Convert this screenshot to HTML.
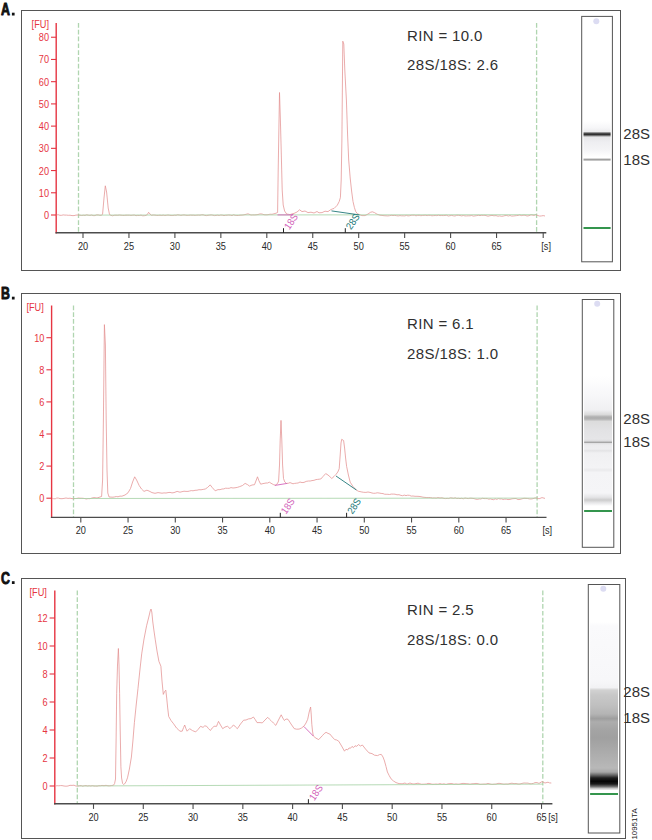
<!DOCTYPE html>
<html><head><meta charset="utf-8"><title>RNA integrity electropherograms</title>
<style>html,body{margin:0;padding:0;background:#fff}svg{display:block;font-family:"Liberation Sans",sans-serif}</style></head>
<body>
<svg width="652" height="840" viewBox="0 0 652 840">
<rect width="652" height="840" fill="#fff"/>
<rect x="21.5" y="10.5" width="599.0" height="260.0" fill="#fff" stroke="#555" stroke-width="1"/>
<text transform="translate(0.9,15.3) scale(0.73,1)" font-weight="bold" font-size="16.9" fill="#111" stroke="#111" stroke-width="0.95" stroke-linejoin="round">A</text>
<rect x="11.9" y="12.7" width="2.7" height="2.8" fill="#111"/>
<line x1="78.5" y1="23" x2="78.5" y2="232.8" stroke="#b0d5b0" stroke-width="1.3" stroke-dasharray="4.7 2.1"/>
<line x1="536.6" y1="23" x2="536.6" y2="232.8" stroke="#b0d5b0" stroke-width="1.3" stroke-dasharray="4.7 2.1"/>
<line x1="56.2" y1="23" x2="56.2" y2="233.4" stroke="#e63542" stroke-width="1.4"/>
<text transform="translate(31.6,27.7) scale(0.92,1)" font-size="10" fill="#e63542">[FU]</text>
<line x1="51.0" y1="215.0" x2="56.2" y2="215.0" stroke="#e63542" stroke-width="1.1"/>
<text transform="translate(49.0,218.9) scale(0.92,1)" font-size="10" fill="#e63542" text-anchor="end">0</text>
<line x1="51.0" y1="192.78" x2="56.2" y2="192.78" stroke="#e63542" stroke-width="1.1"/>
<text transform="translate(49.0,196.7) scale(0.92,1)" font-size="10" fill="#e63542" text-anchor="end">10</text>
<line x1="51.0" y1="170.56" x2="56.2" y2="170.56" stroke="#e63542" stroke-width="1.1"/>
<text transform="translate(49.0,174.5) scale(0.92,1)" font-size="10" fill="#e63542" text-anchor="end">20</text>
<line x1="51.0" y1="148.34" x2="56.2" y2="148.34" stroke="#e63542" stroke-width="1.1"/>
<text transform="translate(49.0,152.2) scale(0.92,1)" font-size="10" fill="#e63542" text-anchor="end">30</text>
<line x1="51.0" y1="126.12" x2="56.2" y2="126.12" stroke="#e63542" stroke-width="1.1"/>
<text transform="translate(49.0,130.0) scale(0.92,1)" font-size="10" fill="#e63542" text-anchor="end">40</text>
<line x1="51.0" y1="103.9" x2="56.2" y2="103.9" stroke="#e63542" stroke-width="1.1"/>
<text transform="translate(49.0,107.8) scale(0.92,1)" font-size="10" fill="#e63542" text-anchor="end">50</text>
<line x1="51.0" y1="81.68" x2="56.2" y2="81.68" stroke="#e63542" stroke-width="1.1"/>
<text transform="translate(49.0,85.6) scale(0.92,1)" font-size="10" fill="#e63542" text-anchor="end">60</text>
<line x1="51.0" y1="59.46000000000001" x2="56.2" y2="59.46000000000001" stroke="#e63542" stroke-width="1.1"/>
<text transform="translate(49.0,63.4) scale(0.92,1)" font-size="10" fill="#e63542" text-anchor="end">70</text>
<line x1="51.0" y1="37.24000000000001" x2="56.2" y2="37.24000000000001" stroke="#e63542" stroke-width="1.1"/>
<text transform="translate(49.0,41.1) scale(0.92,1)" font-size="10" fill="#e63542" text-anchor="end">80</text>
<line x1="55.5" y1="232.8" x2="546.3" y2="232.8" stroke="#4c4c4c" stroke-width="1.4"/>
<line x1="83.0" y1="232.8" x2="83.0" y2="237.9" stroke="#4c4c4c" stroke-width="1.1"/>
<text transform="translate(83.0,249.8) scale(0.92,1)" font-size="10" fill="#2a2a2a" text-anchor="middle">20</text>
<line x1="128.95" y1="232.8" x2="128.95" y2="237.9" stroke="#4c4c4c" stroke-width="1.1"/>
<text transform="translate(128.9,249.8) scale(0.92,1)" font-size="10" fill="#2a2a2a" text-anchor="middle">25</text>
<line x1="174.89999999999998" y1="232.8" x2="174.89999999999998" y2="237.9" stroke="#4c4c4c" stroke-width="1.1"/>
<text transform="translate(174.9,249.8) scale(0.92,1)" font-size="10" fill="#2a2a2a" text-anchor="middle">30</text>
<line x1="220.85" y1="232.8" x2="220.85" y2="237.9" stroke="#4c4c4c" stroke-width="1.1"/>
<text transform="translate(220.8,249.8) scale(0.92,1)" font-size="10" fill="#2a2a2a" text-anchor="middle">35</text>
<line x1="266.79999999999995" y1="232.8" x2="266.79999999999995" y2="237.9" stroke="#4c4c4c" stroke-width="1.1"/>
<text transform="translate(266.8,249.8) scale(0.92,1)" font-size="10" fill="#2a2a2a" text-anchor="middle">40</text>
<line x1="312.75" y1="232.8" x2="312.75" y2="237.9" stroke="#4c4c4c" stroke-width="1.1"/>
<text transform="translate(312.8,249.8) scale(0.92,1)" font-size="10" fill="#2a2a2a" text-anchor="middle">45</text>
<line x1="358.7" y1="232.8" x2="358.7" y2="237.9" stroke="#4c4c4c" stroke-width="1.1"/>
<text transform="translate(358.7,249.8) scale(0.92,1)" font-size="10" fill="#2a2a2a" text-anchor="middle">50</text>
<line x1="404.65" y1="232.8" x2="404.65" y2="237.9" stroke="#4c4c4c" stroke-width="1.1"/>
<text transform="translate(404.6,249.8) scale(0.92,1)" font-size="10" fill="#2a2a2a" text-anchor="middle">55</text>
<line x1="450.59999999999997" y1="232.8" x2="450.59999999999997" y2="237.9" stroke="#4c4c4c" stroke-width="1.1"/>
<text transform="translate(450.6,249.8) scale(0.92,1)" font-size="10" fill="#2a2a2a" text-anchor="middle">60</text>
<line x1="496.54999999999995" y1="232.8" x2="496.54999999999995" y2="237.9" stroke="#4c4c4c" stroke-width="1.1"/>
<text transform="translate(496.5,249.8) scale(0.92,1)" font-size="10" fill="#2a2a2a" text-anchor="middle">65</text>
<line x1="543.2" y1="232.8" x2="543.2" y2="237.9" stroke="#4c4c4c" stroke-width="1.1"/>
<text transform="translate(541.3,249.8) scale(0.92,1)" font-size="10" fill="#2a2a2a">[s]</text>
<polyline points="56.5,215.0 58.2,214.7 59.9,215.3 61.6,215.3 63.2,214.9 64.9,215.1 66.6,215.1 68.3,215.3 70.0,215.2 72.0,215.6 74.0,215.6 76.0,215.1 78.0,215.0 80.0,215.2 81.7,215.5 83.3,215.2 85.0,215.4 86.6,214.8 88.3,215.2 89.9,215.4 91.6,215.0 93.2,215.6 94.9,215.6 96.5,214.9 98.2,214.9 99.8,215.3 101.5,215.3 102.6,214.0 104.0,198.0 105.3,185.8 106.6,192.0 108.2,208.0 109.5,214.5 111.0,215.4 112.7,215.8 114.3,215.3 116.0,215.2 117.7,215.3 119.3,215.0 121.0,215.2 122.7,215.4 124.3,215.4 126.0,215.2 127.7,215.2 129.3,215.2 131.0,215.4 132.7,215.2 134.3,215.0 136.0,215.7 137.7,215.4 139.3,215.5 141.0,215.1 142.7,215.8 144.3,215.7 146.0,215.4 147.5,214.3 148.6,212.3 150.0,214.0 151.5,215.3 153.2,215.0 154.9,215.1 156.6,215.4 158.3,215.4 160.0,215.2 161.6,215.5 163.2,215.1 164.8,215.5 166.4,215.3 168.0,215.0 169.6,215.3 171.2,215.5 172.8,215.5 174.4,215.2 176.0,215.3 177.6,214.8 179.2,215.0 180.8,215.4 182.4,215.1 184.0,214.9 185.6,215.2 187.2,215.4 188.8,215.3 190.4,215.1 192.0,215.2 193.6,215.2 195.2,215.4 196.8,215.2 198.4,215.1 200.0,215.2 201.6,214.8 203.2,214.8 204.8,215.4 206.4,215.6 208.0,215.3 209.6,215.1 211.2,214.9 212.8,215.2 214.4,215.6 216.0,215.4 217.6,215.2 219.2,215.5 220.8,215.0 222.4,215.2 224.0,215.6 225.6,215.3 227.2,215.2 228.8,215.0 230.4,215.2 232.0,215.6 233.6,214.8 235.2,215.4 236.8,215.5 238.4,215.5 240.0,215.2 242.0,215.1 244.0,214.8 246.0,214.3 248.0,213.8 251.0,215.0 252.7,214.9 254.3,214.9 256.0,214.8 258.0,214.5 260.0,213.9 262.0,214.0 264.0,214.7 266.0,214.8 268.0,214.7 270.0,214.2 272.0,214.3 274.0,213.8 276.0,213.2 277.6,212.5 278.2,170.0 279.5,92.5 280.4,120.0 281.2,150.0 282.2,190.0 283.2,205.0 284.6,211.0 286.7,214.0 288.4,214.3 290.0,214.6 292.0,213.9 294.0,213.4 297.0,212.0 299.6,209.8 302.0,211.6 305.0,211.0 308.0,212.6 311.0,212.2 314.0,213.0 317.0,211.5 319.0,212.8 322.0,212.6 325.0,211.2 328.0,211.6 330.5,209.8 332.2,209.0 334.0,208.5 337.3,205.2 339.2,201.5 340.4,197.5 341.2,180.0 341.9,140.0 342.8,41.2 343.8,44.0 344.8,70.0 346.4,100.0 347.6,135.0 348.7,160.0 350.2,178.0 351.6,191.0 353.0,201.5 354.4,207.5 355.7,211.5 357.5,213.8 359.4,214.6 362.0,215.6 365.0,215.6 368.0,214.0 370.5,212.3 372.3,211.8 374.5,212.6 377.0,214.2 380.0,215.2 382.0,215.4 384.0,215.7 386.0,215.8 387.8,215.9 389.5,215.7 391.2,215.3 393.0,215.5 394.8,215.4 396.5,215.7 398.2,215.9 400.0,215.6 401.6,215.8 403.2,215.8 404.8,215.9 406.4,215.4 408.0,215.9 409.6,215.7 411.2,215.3 412.8,215.2 414.4,215.2 416.0,215.8 417.6,215.4 419.2,215.3 420.8,215.7 422.4,215.5 424.0,215.3 425.6,215.3 427.2,215.6 428.8,215.3 430.4,215.4 432.0,215.8 433.6,215.6 435.2,215.5 436.8,215.6 438.4,215.2 440.0,215.6 441.7,215.5 443.3,215.6 445.0,215.4 446.7,215.3 448.3,216.0 450.0,215.7 451.7,215.4 453.3,215.8 455.0,216.0 456.7,215.3 458.3,215.3 460.0,215.5 461.7,215.9 463.3,215.5 465.0,215.9 466.7,215.9 468.3,215.8 470.0,215.8 471.7,215.5 473.3,216.1 475.0,215.9 476.7,215.6 478.3,215.3 480.0,215.6 481.7,215.3 483.3,215.4 485.0,215.3 488.0,216.2 490.0,215.7 492.0,215.4 494.0,215.8 496.0,215.6 498.0,216.2 499.8,215.9 501.5,216.3 503.2,216.1 505.0,215.6 506.7,215.5 508.3,216.0 510.0,215.5 511.7,216.1 513.3,216.0 515.0,215.8 516.6,215.6 518.2,215.4 519.8,215.0 521.4,215.6 523.0,215.2 525.0,215.2 527.0,216.0 529.0,215.7 531.0,214.8 534.0,215.4 536.0,214.6 538.0,215.6 539.8,216.1 541.5,215.9 543.2,215.6 545.0,216.0" fill="none" stroke="#e39090" stroke-width="0.75" stroke-linejoin="round"/>
<line x1="78.5" y1="215.1" x2="536.6" y2="214.7" stroke="#a6d2a6" stroke-width="0.9" opacity="0.9"/>
<text x="407" y="40.7" font-size="15" fill="#303030" letter-spacing="0.36">RIN = 10.0</text>
<text x="407" y="70.1" font-size="15" fill="#303030" letter-spacing="0.4">28S/18S: 2.6</text>
<line x1="283.5" y1="228.20000000000002" x2="283.5" y2="232.8" stroke="#222" stroke-width="1"/>
<text transform="translate(289.3,230.2) rotate(-56) scale(0.92,1)" font-size="10" fill="#d264ba">18S</text>
<line x1="277.5" y1="214.9" x2="293" y2="214.9" stroke="#d264ba" stroke-width="0.9"/>
<line x1="345.3" y1="228.20000000000002" x2="345.3" y2="232.8" stroke="#222" stroke-width="1"/>
<text transform="translate(351.1,230.2) rotate(-56) scale(0.92,1)" font-size="10" fill="#217878">28S</text>
<line x1="331.5" y1="210.9" x2="359.4" y2="214.9" stroke="#217878" stroke-width="0.9"/>
<rect x="581.7" y="16.4" width="30.699999999999932" height="245.4" fill="#fff" stroke="#555" stroke-width="1"/>
<defs><linearGradient id="gA" x1="0" y1="0" x2="0" y2="1"><stop offset="0.0000" stop-color="#fff"/><stop offset="0.1944" stop-color="#f6f6f8"/><stop offset="0.2917" stop-color="#ececee"/><stop offset="0.3333" stop-color="#6a6a6a"/><stop offset="0.3667" stop-color="#1c1c1c"/><stop offset="0.4000" stop-color="#6a6a6a"/><stop offset="0.4444" stop-color="#e6e6e8"/><stop offset="0.5833" stop-color="#eeeef1"/><stop offset="0.8056" stop-color="#f4f4f6"/><stop offset="1.0000" stop-color="#fff"/></linearGradient></defs>
<rect x="583.5" y="121" width="27.1" height="36" fill="url(#gA)"/>
<rect x="583.5" y="158.6" width="27.09999999999993" height="2" fill="#a0a0a0"/>
<rect x="583.5" y="227.1" width="27.09999999999993" height="1.8" fill="#1f8a3a"/>
<circle cx="596.3" cy="21.2" r="3" fill="#dcdcf2"/>
<text x="623.3000000000001" y="139.0" font-size="15" fill="#303030">28S</text>
<text x="623.3000000000001" y="164.8" font-size="15" fill="#303030">18S</text>
<rect x="21.5" y="293.5" width="599.0" height="260.0" fill="#fff" stroke="#555" stroke-width="1"/>
<text transform="translate(0.9,299.3) scale(0.73,1)" font-weight="bold" font-size="16.9" fill="#111" stroke="#111" stroke-width="0.95" stroke-linejoin="round">B</text>
<rect x="11.9" y="296.7" width="2.7" height="2.8" fill="#111"/>
<line x1="73.5" y1="305.5" x2="73.5" y2="517.4" stroke="#b0d5b0" stroke-width="1.3" stroke-dasharray="4.7 2.1"/>
<line x1="537.1" y1="305.5" x2="537.1" y2="517.4" stroke="#b0d5b0" stroke-width="1.3" stroke-dasharray="4.7 2.1"/>
<line x1="51.6" y1="305.5" x2="51.6" y2="518.0" stroke="#e63542" stroke-width="1.4"/>
<text transform="translate(26.4,310.7) scale(0.92,1)" font-size="10" fill="#e63542">[FU]</text>
<line x1="46.4" y1="498.2" x2="51.6" y2="498.2" stroke="#e63542" stroke-width="1.1"/>
<text transform="translate(44.4,502.1) scale(0.92,1)" font-size="10" fill="#e63542" text-anchor="end">0</text>
<line x1="46.4" y1="466.09999999999997" x2="51.6" y2="466.09999999999997" stroke="#e63542" stroke-width="1.1"/>
<text transform="translate(44.4,470.0) scale(0.92,1)" font-size="10" fill="#e63542" text-anchor="end">2</text>
<line x1="46.4" y1="434.0" x2="51.6" y2="434.0" stroke="#e63542" stroke-width="1.1"/>
<text transform="translate(44.4,437.9) scale(0.92,1)" font-size="10" fill="#e63542" text-anchor="end">4</text>
<line x1="46.4" y1="401.9" x2="51.6" y2="401.9" stroke="#e63542" stroke-width="1.1"/>
<text transform="translate(44.4,405.8) scale(0.92,1)" font-size="10" fill="#e63542" text-anchor="end">6</text>
<line x1="46.4" y1="369.79999999999995" x2="51.6" y2="369.79999999999995" stroke="#e63542" stroke-width="1.1"/>
<text transform="translate(44.4,373.7) scale(0.92,1)" font-size="10" fill="#e63542" text-anchor="end">8</text>
<line x1="46.4" y1="337.7" x2="51.6" y2="337.7" stroke="#e63542" stroke-width="1.1"/>
<text transform="translate(44.4,341.6) scale(0.92,1)" font-size="10" fill="#e63542" text-anchor="end">10</text>
<line x1="50.9" y1="517.4" x2="546.5" y2="517.4" stroke="#4c4c4c" stroke-width="1.4"/>
<line x1="80.8" y1="517.4" x2="80.8" y2="522.5" stroke="#4c4c4c" stroke-width="1.1"/>
<text transform="translate(80.8,534.4) scale(0.92,1)" font-size="10" fill="#2a2a2a" text-anchor="middle">20</text>
<line x1="128.05" y1="517.4" x2="128.05" y2="522.5" stroke="#4c4c4c" stroke-width="1.1"/>
<text transform="translate(128.1,534.4) scale(0.92,1)" font-size="10" fill="#2a2a2a" text-anchor="middle">25</text>
<line x1="175.3" y1="517.4" x2="175.3" y2="522.5" stroke="#4c4c4c" stroke-width="1.1"/>
<text transform="translate(175.3,534.4) scale(0.92,1)" font-size="10" fill="#2a2a2a" text-anchor="middle">30</text>
<line x1="222.55" y1="517.4" x2="222.55" y2="522.5" stroke="#4c4c4c" stroke-width="1.1"/>
<text transform="translate(222.6,534.4) scale(0.92,1)" font-size="10" fill="#2a2a2a" text-anchor="middle">35</text>
<line x1="269.8" y1="517.4" x2="269.8" y2="522.5" stroke="#4c4c4c" stroke-width="1.1"/>
<text transform="translate(269.8,534.4) scale(0.92,1)" font-size="10" fill="#2a2a2a" text-anchor="middle">40</text>
<line x1="317.04999999999995" y1="517.4" x2="317.04999999999995" y2="522.5" stroke="#4c4c4c" stroke-width="1.1"/>
<text transform="translate(317.0,534.4) scale(0.92,1)" font-size="10" fill="#2a2a2a" text-anchor="middle">45</text>
<line x1="364.3" y1="517.4" x2="364.3" y2="522.5" stroke="#4c4c4c" stroke-width="1.1"/>
<text transform="translate(364.3,534.4) scale(0.92,1)" font-size="10" fill="#2a2a2a" text-anchor="middle">50</text>
<line x1="411.55" y1="517.4" x2="411.55" y2="522.5" stroke="#4c4c4c" stroke-width="1.1"/>
<text transform="translate(411.6,534.4) scale(0.92,1)" font-size="10" fill="#2a2a2a" text-anchor="middle">55</text>
<line x1="458.8" y1="517.4" x2="458.8" y2="522.5" stroke="#4c4c4c" stroke-width="1.1"/>
<text transform="translate(458.8,534.4) scale(0.92,1)" font-size="10" fill="#2a2a2a" text-anchor="middle">60</text>
<line x1="506.04999999999995" y1="517.4" x2="506.04999999999995" y2="522.5" stroke="#4c4c4c" stroke-width="1.1"/>
<text transform="translate(506.0,534.4) scale(0.92,1)" font-size="10" fill="#2a2a2a" text-anchor="middle">65</text>
<text transform="translate(542.4,534.4) scale(0.92,1)" font-size="10" fill="#2a2a2a">[s]</text>
<polyline points="52.0,498.2 53.6,498.7 55.2,498.8 56.8,498.0 58.4,498.1 60.0,498.6 62.0,498.7 64.0,498.4 66.0,498.0 68.0,498.4 70.0,498.2 72.0,498.6 73.6,498.6 75.2,498.5 76.8,498.4 78.4,498.0 80.0,498.2 81.6,498.2 83.2,498.3 84.8,498.6 86.4,499.0 88.0,498.6 90.0,498.7 92.0,498.0 94.0,497.6 97.0,498.0 100.0,497.0 101.6,496.5 102.6,480.0 103.4,420.0 104.4,324.6 105.4,345.0 106.2,420.0 107.0,470.0 107.8,493.0 109.1,497.0 111.0,497.1 113.0,497.2 114.7,496.9 116.3,496.5 118.0,496.8 120.0,496.1 121.9,496.2 125.0,495.0 128.0,492.8 130.5,488.5 132.6,482.0 134.7,476.8 136.6,480.0 139.1,485.4 141.5,489.0 144.0,491.4 146.9,490.2 149.0,491.0 152.0,492.6 155.0,493.3 158.0,492.6 160.0,492.9 162.0,493.2 164.0,492.9 166.0,493.0 168.0,492.6 170.0,492.4 172.0,492.9 174.0,492.6 177.1,491.4 180.0,492.2 182.0,491.7 184.0,491.2 186.0,491.4 188.0,491.4 189.7,491.0 191.3,490.6 193.0,490.8 195.0,490.3 197.0,490.2 199.0,489.7 201.0,489.8 203.2,489.4 205.3,489.0 207.5,487.5 210.2,484.9 212.3,487.6 215.2,490.8 218.0,489.6 220.0,489.7 222.0,489.0 223.8,488.9 225.6,488.2 227.4,488.3 229.2,488.3 231.0,487.6 233.0,488.0 235.0,487.8 237.3,487.4 239.7,486.6 242.5,485.5 245.1,483.4 247.5,484.6 249.5,486.1 252.0,485.0 254.5,484.7 256.3,480.0 257.5,476.8 258.8,480.5 260.7,484.2 263.0,483.6 266.0,483.0 267.6,483.0 269.3,482.2 272.0,483.8 273.7,484.7 275.4,485.2 277.5,483.5 278.6,481.0 279.5,465.0 280.2,440.0 281.0,420.4 281.8,440.0 282.6,465.0 283.5,478.5 284.8,482.0 286.4,483.4 288.2,483.3 290.0,482.6 293.0,483.8 294.6,483.4 296.3,483.2 298.1,483.0 300.0,482.0 302.0,482.6 304.0,482.4 306.2,481.4 308.5,481.0 310.2,481.0 312.0,480.6 314.0,480.3 316.0,479.6 317.6,479.4 319.2,479.2 320.8,479.0 323.0,476.5 325.7,473.6 328.0,475.0 329.9,476.7 331.8,478.5 334.0,476.5 336.0,474.4 337.8,472.0 339.2,468.7 340.2,455.0 341.0,443.0 341.7,439.3 343.6,440.5 344.6,448.0 345.6,458.0 346.6,466.3 348.4,475.0 350.2,482.2 353.0,486.5 356.4,490.0 358.2,491.2 360.0,491.6 361.9,492.0 363.7,492.3 365.9,492.4 368.0,492.0 370.0,492.4 372.0,493.0 373.7,493.3 375.5,493.2 377.2,492.8 379.1,493.0 381.1,493.4 383.0,493.6 384.6,494.2 386.2,494.3 387.9,494.3 389.5,494.5 391.3,494.1 393.2,494.1 395.0,494.2 397.0,494.8 399.0,494.7 401.0,495.4 402.6,495.7 404.3,495.1 406.0,495.6 407.6,495.2 409.4,495.3 411.2,496.1 413.0,496.0 415.0,496.3 417.0,496.3 419.0,496.4 421.0,496.7 423.0,497.2 425.0,497.4 426.9,497.6 428.8,497.5 430.6,497.6 432.5,498.0 434.3,497.9 436.2,498.1 438.0,497.6 440.0,498.0 442.0,497.8 444.0,498.4 445.6,498.6 447.2,498.4 448.8,498.5 450.4,497.8 452.0,498.0 453.6,498.3 455.2,497.8 456.8,498.5 458.4,498.3 460.0,498.6 461.7,498.3 463.3,498.8 465.0,498.0 466.7,498.4 468.3,498.6 470.0,498.2 472.0,498.3 474.0,498.6 476.0,499.2 477.6,499.4 479.2,498.9 480.8,499.0 482.4,498.3 484.0,498.6 485.6,498.6 487.2,498.6 488.8,499.2 490.4,498.9 492.0,499.4 493.6,499.7 495.2,498.8 496.8,499.4 498.4,498.6 500.0,499.0 501.6,498.9 503.2,499.5 504.8,499.1 506.4,499.2 508.0,499.6 510.0,499.4 512.0,498.8 514.0,498.6 516.0,498.5 518.0,499.6 520.0,499.4 522.0,498.8 524.0,498.3 526.0,498.4 527.7,498.5 529.3,498.9 531.0,499.0 533.0,498.7 535.0,498.0 537.0,498.1 539.0,498.8 542.0,497.6 545.0,498.4" fill="none" stroke="#e39090" stroke-width="0.75" stroke-linejoin="round"/>
<line x1="73.5" y1="498.5" x2="537.1" y2="498.1" stroke="#a6d2a6" stroke-width="0.9" opacity="0.9"/>
<text x="407" y="328.6" font-size="15" fill="#303030" letter-spacing="0.36">RIN = 6.1</text>
<text x="407" y="358.8" font-size="15" fill="#303030" letter-spacing="0.4">28S/18S: 1.0</text>
<line x1="280.3" y1="512.8" x2="280.3" y2="517.4" stroke="#222" stroke-width="1"/>
<text transform="translate(286.1,514.8) rotate(-56) scale(0.92,1)" font-size="10" fill="#d264ba">18S</text>
<line x1="274.9" y1="485.4" x2="287.2" y2="483.4" stroke="#d264ba" stroke-width="0.9"/>
<line x1="346.6" y1="512.8" x2="346.6" y2="517.4" stroke="#222" stroke-width="1"/>
<text transform="translate(352.4,514.8) rotate(-56) scale(0.92,1)" font-size="10" fill="#217878">28S</text>
<line x1="336" y1="476" x2="356.4" y2="490" stroke="#217878" stroke-width="0.9"/>
<rect x="582.3" y="299.5" width="31.5" height="247.79999999999995" fill="#fff" stroke="#555" stroke-width="1"/>
<defs><linearGradient id="gB" x1="0" y1="0" x2="0" y2="1"><stop offset="0.0000" stop-color="#fff"/><stop offset="0.1462" stop-color="#f7f7f9"/><stop offset="0.2615" stop-color="#f0f0f2"/><stop offset="0.2962" stop-color="#dadada"/><stop offset="0.3123" stop-color="#b6b6b6"/><stop offset="0.3231" stop-color="#acacac"/><stop offset="0.3338" stop-color="#b8b8b8"/><stop offset="0.3500" stop-color="#dcdcdc"/><stop offset="0.4154" stop-color="#e2e2e4"/><stop offset="0.4846" stop-color="#e6e6e8"/><stop offset="0.5023" stop-color="#dadadc"/><stop offset="0.5062" stop-color="#a6a6a6"/><stop offset="0.5123" stop-color="#a6a6a6"/><stop offset="0.5162" stop-color="#dedee0"/><stop offset="0.5308" stop-color="#ececee"/><stop offset="0.5615" stop-color="#eeeef0"/><stop offset="0.5746" stop-color="#e3e3e5"/><stop offset="0.5923" stop-color="#f0f0f2"/><stop offset="0.7038" stop-color="#f3f3f5"/><stop offset="0.7231" stop-color="#eaeaec"/><stop offset="0.7423" stop-color="#f4f4f6"/><stop offset="0.9000" stop-color="#f5f5f7"/><stop offset="0.9331" stop-color="#e4e4e6"/><stop offset="0.9538" stop-color="#cccccc"/><stop offset="0.9746" stop-color="#e6e6e8"/><stop offset="1.0000" stop-color="#fff"/></linearGradient></defs>
<rect x="584.1" y="376" width="27.9" height="130" fill="url(#gB)"/>
<rect x="584.0999999999999" y="510.1" width="27.9" height="1.8" fill="#1f8a3a"/>
<circle cx="597.2" cy="303.7" r="3" fill="#dcdcf2"/>
<text x="623.3000000000001" y="423.59999999999997" font-size="15" fill="#303030">28S</text>
<text x="623.3000000000001" y="447.0" font-size="15" fill="#303030">18S</text>
<rect x="21.5" y="578.5" width="604.0" height="260.0" fill="#fff" stroke="#555" stroke-width="1"/>
<text transform="translate(0.9,583.8) scale(0.73,1)" font-weight="bold" font-size="16.9" fill="#111" stroke="#111" stroke-width="0.95" stroke-linejoin="round">C</text>
<rect x="11.9" y="581.2" width="2.7" height="2.8" fill="#111"/>
<line x1="77.3" y1="590.5" x2="77.3" y2="803.8" stroke="#b0d5b0" stroke-width="1.3" stroke-dasharray="4.7 2.1"/>
<line x1="542.8" y1="590.5" x2="542.8" y2="803.8" stroke="#b0d5b0" stroke-width="1.3" stroke-dasharray="4.7 2.1"/>
<line x1="54.8" y1="590.5" x2="54.8" y2="804.4" stroke="#e63542" stroke-width="1.4"/>
<text transform="translate(29.5,596.0999999999999) scale(0.92,1)" font-size="10" fill="#e63542">[FU]</text>
<line x1="49.599999999999994" y1="786" x2="54.8" y2="786" stroke="#e63542" stroke-width="1.1"/>
<text transform="translate(47.6,789.9) scale(0.92,1)" font-size="10" fill="#e63542" text-anchor="end">0</text>
<line x1="49.599999999999994" y1="758" x2="54.8" y2="758" stroke="#e63542" stroke-width="1.1"/>
<text transform="translate(47.6,761.9) scale(0.92,1)" font-size="10" fill="#e63542" text-anchor="end">2</text>
<line x1="49.599999999999994" y1="730" x2="54.8" y2="730" stroke="#e63542" stroke-width="1.1"/>
<text transform="translate(47.6,733.9) scale(0.92,1)" font-size="10" fill="#e63542" text-anchor="end">4</text>
<line x1="49.599999999999994" y1="702" x2="54.8" y2="702" stroke="#e63542" stroke-width="1.1"/>
<text transform="translate(47.6,705.9) scale(0.92,1)" font-size="10" fill="#e63542" text-anchor="end">6</text>
<line x1="49.599999999999994" y1="674" x2="54.8" y2="674" stroke="#e63542" stroke-width="1.1"/>
<text transform="translate(47.6,677.9) scale(0.92,1)" font-size="10" fill="#e63542" text-anchor="end">8</text>
<line x1="49.599999999999994" y1="646" x2="54.8" y2="646" stroke="#e63542" stroke-width="1.1"/>
<text transform="translate(47.6,649.9) scale(0.92,1)" font-size="10" fill="#e63542" text-anchor="end">10</text>
<line x1="49.599999999999994" y1="618" x2="54.8" y2="618" stroke="#e63542" stroke-width="1.1"/>
<text transform="translate(47.6,621.9) scale(0.92,1)" font-size="10" fill="#e63542" text-anchor="end">12</text>
<line x1="54.099999999999994" y1="803.8" x2="552.4" y2="803.8" stroke="#4c4c4c" stroke-width="1.4"/>
<line x1="93.5" y1="803.8" x2="93.5" y2="808.9" stroke="#4c4c4c" stroke-width="1.1"/>
<text transform="translate(93.5,820.8) scale(0.92,1)" font-size="10" fill="#2a2a2a" text-anchor="middle">20</text>
<line x1="143.28" y1="803.8" x2="143.28" y2="808.9" stroke="#4c4c4c" stroke-width="1.1"/>
<text transform="translate(143.3,820.8) scale(0.92,1)" font-size="10" fill="#2a2a2a" text-anchor="middle">25</text>
<line x1="193.06" y1="803.8" x2="193.06" y2="808.9" stroke="#4c4c4c" stroke-width="1.1"/>
<text transform="translate(193.1,820.8) scale(0.92,1)" font-size="10" fill="#2a2a2a" text-anchor="middle">30</text>
<line x1="242.84" y1="803.8" x2="242.84" y2="808.9" stroke="#4c4c4c" stroke-width="1.1"/>
<text transform="translate(242.8,820.8) scale(0.92,1)" font-size="10" fill="#2a2a2a" text-anchor="middle">35</text>
<line x1="292.62" y1="803.8" x2="292.62" y2="808.9" stroke="#4c4c4c" stroke-width="1.1"/>
<text transform="translate(292.6,820.8) scale(0.92,1)" font-size="10" fill="#2a2a2a" text-anchor="middle">40</text>
<line x1="342.4" y1="803.8" x2="342.4" y2="808.9" stroke="#4c4c4c" stroke-width="1.1"/>
<text transform="translate(342.4,820.8) scale(0.92,1)" font-size="10" fill="#2a2a2a" text-anchor="middle">45</text>
<line x1="392.18" y1="803.8" x2="392.18" y2="808.9" stroke="#4c4c4c" stroke-width="1.1"/>
<text transform="translate(392.2,820.8) scale(0.92,1)" font-size="10" fill="#2a2a2a" text-anchor="middle">50</text>
<line x1="441.96" y1="803.8" x2="441.96" y2="808.9" stroke="#4c4c4c" stroke-width="1.1"/>
<text transform="translate(442.0,820.8) scale(0.92,1)" font-size="10" fill="#2a2a2a" text-anchor="middle">55</text>
<line x1="491.74" y1="803.8" x2="491.74" y2="808.9" stroke="#4c4c4c" stroke-width="1.1"/>
<text transform="translate(491.7,820.8) scale(0.92,1)" font-size="10" fill="#2a2a2a" text-anchor="middle">60</text>
<line x1="541.52" y1="803.8" x2="541.52" y2="808.9" stroke="#4c4c4c" stroke-width="1.1"/>
<text transform="translate(541.5,820.8) scale(0.92,1)" font-size="10" fill="#2a2a2a" text-anchor="middle">65</text>
<text transform="translate(548.2,820.8) scale(0.92,1)" font-size="10" fill="#2a2a2a">[s]</text>
<polyline points="55.5,786.0 57.1,785.7 58.8,785.8 60.4,785.6 62.0,785.6 64.0,786.0 66.0,786.2 68.0,786.0 70.0,785.3 72.0,785.4 74.0,785.2 76.0,786.1 78.0,786.0 79.6,785.7 81.2,785.6 82.8,786.2 84.4,785.7 86.0,785.6 87.6,786.0 89.2,785.7 90.8,786.0 92.4,785.6 94.0,786.0 95.6,786.0 97.2,786.1 98.8,785.7 100.4,785.7 102.0,785.4 104.0,785.7 106.0,785.3 108.0,785.8 109.8,785.8 111.7,785.5 113.5,785.2 114.6,783.5 115.5,779.0 116.1,740.0 116.7,693.2 117.5,665.0 118.4,648.5 119.0,665.0 119.6,693.2 120.2,730.0 120.9,766.8 121.6,778.0 122.6,783.5 123.5,784.4 124.5,784.0 126.0,781.8 127.5,777.8 129.4,769.0 131.4,757.0 132.9,741.0 134.4,722.6 136.2,705.0 138.0,688.3 139.8,671.0 141.7,653.9 144.0,639.0 146.6,625.7 148.8,617.0 150.2,611.0 151.0,609.0 151.8,612.0 152.8,622.0 154.0,631.0 155.2,639.2 157.0,651.0 158.9,661.3 160.0,664.0 160.9,666.2 162.0,681.0 163.3,694.4 164.6,691.5 165.8,690.2 166.7,698.0 167.7,708.0 168.7,716.5 171.0,720.5 173.6,723.8 176.5,728.0 178.2,729.4 179.8,731.2 182.2,731.2 183.6,727.5 184.7,725.0 185.9,728.5 187.1,731.2 189.6,728.7 192.5,730.6 195.7,731.9 198.0,729.5 200.6,726.3 203.0,727.4 204.8,725.8 206.7,726.3 208.5,728.6 210.4,730.5 212.2,728.0 214.1,726.3 216.6,726.3 217.6,723.5 218.5,721.4 220.5,725.0 222.7,728.7 225.0,727.0 227.6,726.3 230.0,728.7 232.0,726.4 233.7,725.0 235.5,727.0 237.4,728.7 240.5,724.0 243.6,720.2 246.0,720.0 248.5,718.9 251.0,718.6 253.4,717.0 255.2,719.5 257.0,722.6 260.0,722.6 262.3,722.9 265.0,720.0 267.7,717.3 269.3,719.0 270.9,720.5 273.4,723.0 275.8,725.4 278.5,720.0 281.2,714.8 282.8,718.0 284.4,720.5 286.0,719.0 288.0,719.3 291.0,724.0 294.2,728.6 296.6,729.2 299.1,729.1 301.5,728.0 304.0,726.1 306.0,723.0 307.7,719.3 309.2,712.0 310.6,707.0 311.2,714.0 311.8,724.2 312.5,731.0 313.3,736.0 316.0,738.2 318.7,739.6 322.5,735.5 324.3,733.5 326.1,732.3 328.0,733.4 329.8,734.0 332.3,737.0 334.7,739.6 336.8,740.0 338.8,741.3 341.6,746.0 344.5,751.2 346.0,749.2 347.5,750.0 349.0,748.0 350.6,748.2 352.0,746.4 353.5,747.6 355.0,745.8 356.7,746.3 358.5,744.6 360.4,746.0 362.4,745.0 365.5,749.0 369.0,752.9 372.0,753.6 374.5,755.2 377.6,755.6 379.5,754.6 381.3,754.4 383.0,757.0 384.5,761.0 386.0,766.5 387.4,772.0 389.2,775.6 391.1,778.9 393.5,781.0 396.0,782.6 399.0,783.6 402.1,783.8 405.0,783.0 407.0,784.2 410.0,783.0 412.0,783.8 414.0,784.0 416.0,783.6 418.0,783.2 419.7,783.7 421.3,784.2 423.0,784.2 424.7,784.1 426.3,784.0 428.0,783.4 430.0,783.6 432.0,784.2 434.0,784.2 436.0,784.0 438.0,784.2 440.0,783.6 442.0,784.2 444.0,783.8 446.0,784.4 448.0,783.8 450.0,783.6 452.0,783.6 454.0,784.2 456.0,783.9 458.0,784.2 460.0,784.0 462.0,783.5 464.0,783.4 466.0,783.7 468.0,783.8 470.0,784.2 472.0,783.8 474.0,783.7 476.0,783.4 478.0,783.7 480.0,784.3 482.0,784.2 484.0,784.1 486.0,784.1 488.0,783.4 490.0,784.0 492.0,784.4 494.0,784.2 496.0,784.1 498.0,783.4 500.0,783.4 502.0,783.9 504.0,784.2 506.0,784.0 508.0,784.1 510.0,783.5 512.0,783.2 514.0,783.7 516.0,783.5 518.0,784.0 520.0,784.0 522.0,783.4 524.0,783.0 526.0,783.1 528.0,783.1 530.0,783.8 531.7,783.7 533.3,783.4 535.0,782.6 537.0,782.6 539.0,783.4 542.0,781.6 545.0,783.0 548.0,782.2 549.6,782.9 551.3,783.0" fill="none" stroke="#e39090" stroke-width="0.75" stroke-linejoin="round"/>
<line x1="77.3" y1="786" x2="542.8" y2="784.1" stroke="#a6d2a6" stroke-width="0.9" opacity="0.9"/>
<text x="407" y="614.5" font-size="15" fill="#303030" letter-spacing="0.36">RIN = 2.5</text>
<text x="407" y="644.6" font-size="15" fill="#303030" letter-spacing="0.4">28S/18S: 0.0</text>
<line x1="308.4" y1="799.1999999999999" x2="308.4" y2="803.8" stroke="#222" stroke-width="1"/>
<text transform="translate(314.2,801.2) rotate(-56) scale(0.92,1)" font-size="10" fill="#d264ba">18S</text>
<line x1="304" y1="726.6" x2="313.3" y2="736" stroke="#d264ba" stroke-width="0.9"/>
<rect x="588.3" y="584.5" width="31.5" height="248.5" fill="#fff" stroke="#555" stroke-width="1"/>
<defs><linearGradient id="gC" x1="0" y1="0" x2="0" y2="1"><stop offset="0.0000" stop-color="#fff"/><stop offset="0.0237" stop-color="#fafafc"/><stop offset="0.3442" stop-color="#f7f7f9"/><stop offset="0.3893" stop-color="#f2f2f4"/><stop offset="0.4036" stop-color="#d2d2d2"/><stop offset="0.4332" stop-color="#c8c8c8"/><stop offset="0.4926" stop-color="#c0c0c0"/><stop offset="0.5460" stop-color="#b4b4b4"/><stop offset="0.5733" stop-color="#9e9e9e"/><stop offset="0.5935" stop-color="#adadad"/><stop offset="0.6409" stop-color="#a4a4a4"/><stop offset="0.6884" stop-color="#a0a0a0"/><stop offset="0.7478" stop-color="#a8a8a8"/><stop offset="0.8071" stop-color="#b0b0b0"/><stop offset="0.8665" stop-color="#b8b8b8"/><stop offset="0.8902" stop-color="#a8a8a8"/><stop offset="0.9080" stop-color="#686868"/><stop offset="0.9258" stop-color="#1e1e1e"/><stop offset="0.9454" stop-color="#050505"/><stop offset="0.9614" stop-color="#1a1a1a"/><stop offset="0.9763" stop-color="#6c6c6c"/><stop offset="0.9881" stop-color="#c8c8c8"/><stop offset="1.0000" stop-color="#fff"/></linearGradient></defs>
<rect x="590.1" y="622" width="27.9" height="168.5" fill="url(#gC)"/>
<rect x="590.0999999999999" y="793.1" width="27.9" height="1.8" fill="#1f8a3a"/>
<circle cx="603.3" cy="588.7" r="3" fill="#dcdcf2"/>
<text x="623.3000000000001" y="696.6" font-size="15" fill="#303030">28S</text>
<text x="623.3000000000001" y="723.0" font-size="15" fill="#303030">18S</text>
<text transform="translate(637.4,839.6) rotate(-90)" font-size="7.9" fill="#222">10951TA</text>
</svg>
</body></html>
